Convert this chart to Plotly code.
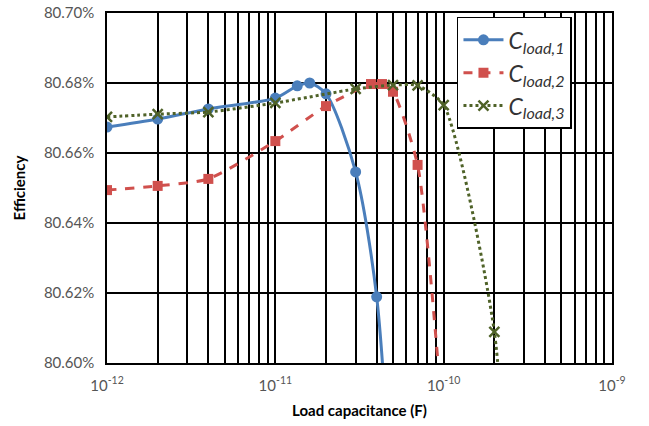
import plotly.graph_objects as go

# Data (load capacitance in F, efficiency in %)
c1_x = [1e-12, 2e-12, 4e-12, 1e-11, 1.35e-11, 1.6e-11, 2e-11, 3e-11, 4e-11, 5e-11]
c1_y = [80.6674, 80.6697, 80.6726, 80.6757, 80.6792, 80.6800, 80.6769, 80.6546, 80.6189, 80.55]

c2_x = [1e-12, 2e-12, 4e-12, 1e-11, 2e-11, 3.7e-11, 4.3e-11, 5e-11, 7e-11, 1e-10]
c2_y = [80.6494, 80.6506, 80.6526, 80.6634, 80.6734, 80.6797, 80.6797, 80.6775, 80.6566, 80.58]

c3_x = [1e-12, 2e-12, 4e-12, 1e-11, 3e-11, 5e-11, 7e-11, 1e-10, 2e-10, 3e-10]
c3_y = [80.6703, 80.6711, 80.6717, 80.6743, 80.6783, 80.6794, 80.6793, 80.6737, 80.6089, 80.45]

subs = ["load,1", "load,2", "load,3"]
names = [f'<i>C</i><sub><i>{s}</i></sub>' for s in subs]
y_ticks = [80.60, 80.62, 80.64, 80.66, 80.68, 80.70]
x_decades = [-12, -11, -10, -9]

FONT = "Lato"

fig = go.Figure()
fig.add_trace(go.Scatter(x=c1_x, y=c1_y, name=names[0], mode="lines+markers",
                         line=dict(color="#4A7EBB", width=3, shape="spline", smoothing=0.8),
                         marker=dict(symbol="circle", size=11, color="#4A7EBB")))
fig.add_trace(go.Scatter(x=c2_x, y=c2_y, name=names[1], mode="lines+markers",
                         line=dict(color="#D0504D", width=3, dash="dash", shape="spline", smoothing=0.6),
                         marker=dict(symbol="square", size=10, color="#D0504D")))
fig.add_trace(go.Scatter(x=c3_x, y=c3_y, name=names[2], mode="lines+markers",
                         line=dict(color="#4F6228", width=3, dash="dot", shape="spline", smoothing=0.6),
                         marker=dict(symbol="x-thin", size=10, color="#4F6228",
                                     line=dict(color="#4F6228", width=2.5))))

major_vals = [10.0 ** e for e in x_decades]
major_text = [f"10<sup>{e}</sup>" for e in x_decades]

fig.update_layout(
    width=649, height=426,
    margin=dict(l=107, r=37, t=13, b=63, autoexpand=False),
    paper_bgcolor="white", plot_bgcolor="white",
    font=dict(family=FONT, color="#555555", size=14),
    showlegend=True,
    legend=dict(x=0.693, y=0.989, xanchor="left", yanchor="top",
                bgcolor="white", bordercolor="black", borderwidth=1.5,
                font=dict(family=FONT, size=23, color="#333333"),
                itemwidth=40, tracegroupgap=0,
                entrywidth=125, entrywidthmode="pixels"),
    xaxis=dict(type="log", range=[-12, -9], tickvals=major_vals, ticktext=major_text,
               tickangle=0, ticklabeloverflow="allow",
               showgrid=True, gridcolor="black", gridwidth=1.5,
               minor=dict(dtick="D1", showgrid=True, gridcolor="black", gridwidth=1.5, ticks=""),
               showline=True, linecolor="black", linewidth=1.5, mirror=True,
               ticks="", zeroline=False, ticklabelstandoff=8,
               tickfont=dict(family=FONT, size=15, color="#555555"),
               title=dict(text="<b>Load capacitance (F)</b>", font=dict(family=FONT, size=15, color="black"),
                          standoff=13)),
    yaxis=dict(range=[80.60, 80.70], tickvals=y_ticks,
               ticktext=[f"{v:.2f}%" for v in y_ticks],
               ticklabeloverflow="allow",
               showgrid=True, gridcolor="black", gridwidth=1.5,
               showline=True, linecolor="black", linewidth=1.5, mirror=True,
               ticks="", zeroline=False, ticklabelstandoff=8,
               tickfont=dict(family=FONT, size=15, color="#555555"),
               title=dict(text="<b>Efficiency</b>", font=dict(family=FONT, size=15, color="black"),
                          standoff=15)),
)

fig.write_html("out.html", config={"displayModeBar": False},
               post_script="document.body.style.margin='0';")
